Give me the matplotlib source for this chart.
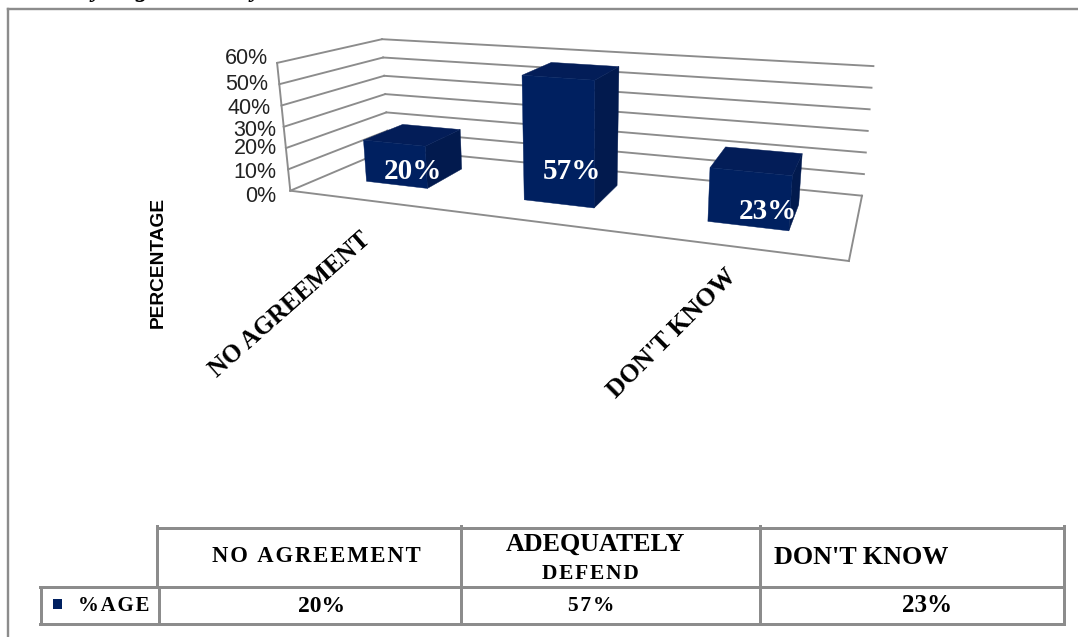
import matplotlib
matplotlib.use("Agg")
import matplotlib.pyplot as plt
from matplotlib.patches import Polygon, Rectangle
import numpy as np

# ---- data ----
categories = ["NO AGREEMENT", "ADEQUATELY DEFEND", "DON'T KNOW"]
values = [20, 57, 23]
series_name = "%AGE"
y_ticks = [0, 10, 20, 30, 40, 50, 60]
axis_title = "PERCENTAGE"
cut_off_letters = ["y", "g", "y"]

# ---- styles / layout (pixel space of the 1078x637 figure) ----
W, H = 1078, 637
GREY = "#8c8c8c"
FRONT, SIDE, TOP = "#002060", "#021a4e", "#031d58"
SANS = "Liberation Sans"
SERIF = "Liberation Serif"
GAP = "\u200a"

FL, FR, BL, BR = map(np.array, ([290.3, 190.7], [848.9, 261.0], [388.5, 149.0], [862.0, 195.7]))
# screen displacement for one percentage point at each floor corner
VFL, VFR, VBL, VBR = map(np.array, ([-0.22, -2.13], [0.2, -2.6], [-0.108, -1.83], [0.19, -2.16]))

BAR_U = [(0.08, 0.195), (0.378, 0.51), (0.725, 0.878)]
BAR_D = (0.345, 0.765)
TICK_Y = [196.7, 172.3, 149, 131, 109, 85, 58.3]
TICK_R = [276, 276, 277, 276.5, 271, 268.6, 268]
LABEL_XY = [(413, 171.5), (572.4, 171.5), (767.8, 211.5)]
LABEL_CLIP = [442.5, 601, 796.5]
CUT_X = [97, 142, 256]


def bilinear(a, b, c, d, u, t):
    return (1 - u) * (1 - t) * a + u * (1 - t) * b + (1 - u) * t * c + u * t * d


def project(u, t, v):
    return bilinear(FL, FR, BL, BR, u, t) + v * bilinear(VFL, VFR, VBL, VBR, u, t)


fig = plt.figure(figsize=(W / 100, H / 100), dpi=100)
ax = fig.add_axes([0, 0, 1, 1])
ax.set_xlim(0, W)
ax.set_ylim(H, 0)
ax.axis("off")


def seg(p, q, lw=1.9, color=GREY, z=1):
    ax.plot([p[0], q[0]], [p[1], q[1]], color=color, lw=lw * 0.72,
            solid_capstyle="projecting", zorder=z)


# remains of the caption above the frame, cut off by the page edge
for ch, x in zip(cut_off_letters, CUT_X):
    ax.text(x, -3.0, ch, ha="center", va="baseline", family=SERIF, weight="bold",
            style="italic", fontsize=18, color="black", clip_on=True)

# outer frame
seg((8, H), (8, 9.3), 2.4)
seg((8, 9.3), (W, 9.3), 2.4)

# walls and gridlines
for v in y_ticks:
    seg(project(0, 0, v), project(0, 1, v))
    seg(project(0, 1, v), project(1, 1, v))
seg(project(0, 0, 0), project(0, 0, max(y_ticks)))
seg(project(0, 0, 0), project(1, 0, 0))
seg(project(1, 0, 0), project(1, 1, 0))

# tick labels
for v, y, r in zip(y_ticks, TICK_Y, TICK_R):
    ax.text(r, y, f"{v}%", ha="right", va="center", family=SANS, fontsize=15.5, color="#222222")

# bars
for val, (u0, u1) in zip(values, BAR_U):
    d0, d1 = BAR_D
    front = [project(u0, d0, 0), project(u1, d0, 0), project(u1, d0, val), project(u0, d0, val)]
    side = [project(u1, d0, 0), project(u1, d1, 0), project(u1, d1, val), project(u1, d0, val)]
    top = [project(u0, d0, val), project(u1, d0, val), project(u1, d1, val), project(u0, d1, val)]
    ax.add_patch(Polygon(side, closed=True, fc=SIDE, ec=SIDE, lw=0.3, zorder=3))
    ax.add_patch(Polygon(top, closed=True, fc=TOP, ec=TOP, lw=0.3, zorder=3))
    ax.add_patch(Polygon(front, closed=True, fc=FRONT, ec=FRONT, lw=0.3, zorder=4))

# data labels
for val, (x, y), c in zip(values, LABEL_XY, LABEL_CLIP):
    t = ax.text(x, y, f"{val}%", ha="center", va="center", family=SERIF, weight="bold",
                fontsize=21, color="white", zorder=5)
    t.set_clip_path(Rectangle((x - 60, y - 30), c - x + 60, 60, transform=ax.transData))

# axis title and rotated category labels (the middle one is absent in the source)
ax.text(158, 262, axis_title, rotation=90, ha="center", va="center", family=SANS,
        weight="bold", fontsize=13.8, color="black")
ax.text(290, 305, categories[0], rotation=41.5, ha="center", va="center", family=SERIF,
        weight="bold", fontsize=18, color="black", rotation_mode="anchor")
ax.text(672, 334, categories[2], rotation=45, ha="center", va="center", family=SERIF,
        weight="bold", fontsize=18.5, color="black", rotation_mode="anchor")

# data table
TX = [156.7, 460.7, 759.7, 1063.7]
TY = [528.3, 587.3, 624.3]
LEG = 41.3
seg((TX[0], TY[0] - 2), (TX[0], TY[1]), 3)
for x in TX[1:]:
    seg((x, TY[0] - 2), (x, TY[2]), 3)
seg((TX[0], TY[0]), (TX[3], TY[0]), 3)
seg((39.6, TY[1]), (TX[3], TY[1]), 3)
seg((39.6, TY[2]), (TX[3], TY[2]), 3)
seg((LEG, TY[1]), (LEG, TY[2]), 3)
seg((159, TY[1]), (159, TY[2]), 3)
ax.add_patch(Rectangle((53.4, 599.3), 8.6, 10, fc=FRONT, ec="none"))


def spaced(s):
    return GAP.join(s)


def cell(x, y, s, size):
    ax.text(x, y, s, ha="center", va="center", family=SERIF, weight="bold",
            fontsize=size, color="black")


cell(316, 557, spaced(categories[0]), 16.3)
first, second = categories[1].split(" ")
cell(595, 544, first, 18.7)
cell(590, 574, spaced(second), 15.5)
cell(861.5, 557, categories[2], 18.8)
cell(114, 606, spaced(series_name), 15)
cell(322, 606, f"{values[0]}%", 17)
cell(590.7, 606, spaced(f"{values[1]}%"), 15.5)
cell(927.4, 606, f"{values[2]}%", 18)

fig.savefig("out.png", dpi=100, facecolor="white")
